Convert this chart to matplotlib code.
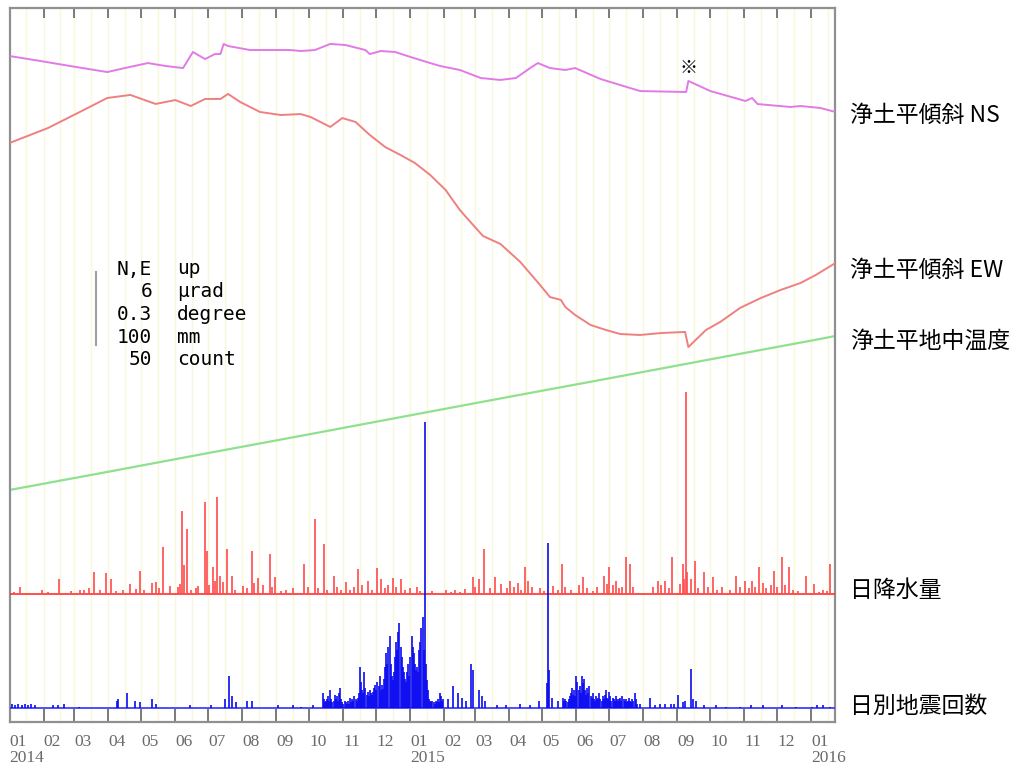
import matplotlib
matplotlib.use("Agg")
import matplotlib.pyplot as plt
import matplotlib.transforms as mtransforms
import numpy as np
import pandas as pd

# Tilt NS (micro rad, relative to first sample)
ns_tilt = [
    ("2014-01-01", 0.00), ("2014-01-29", -0.41), ("2014-02-25", -0.82), ("2014-03-31", -1.32),
    ("2014-04-16", -0.99), ("2014-05-07", -0.58), ("2014-05-23", -0.82), ("2014-06-08", -0.99),
    ("2014-06-17", 0.33), ("2014-06-28", -0.25), ("2014-07-07", 0.16), ("2014-07-12", 0.16),
    ("2014-07-15", 0.99), ("2014-07-19", 0.82), ("2014-08-08", 0.49), ("2014-08-26", 0.49),
    ("2014-09-14", 0.49), ("2014-09-23", 0.41), ("2014-10-06", 0.49), ("2014-10-20", 0.99),
    ("2014-11-03", 0.90), ("2014-11-21", 0.49), ("2014-11-25", 0.16), ("2014-12-05", 0.41),
    ("2014-12-18", 0.33), ("2015-01-01", -0.08), ("2015-01-19", -0.58), ("2015-01-28", -0.82),
    ("2015-02-15", -1.15), ("2015-03-06", -1.81), ("2015-03-24", -1.97), ("2015-04-07", -1.81),
    ("2015-04-20", -0.99), ("2015-04-27", -0.58), ("2015-05-08", -0.99), ("2015-05-22", -1.15),
    ("2015-05-31", -0.99), ("2015-06-23", -1.89), ("2015-07-29", -2.88), ("2015-09-09", -2.96),
    ("2015-09-11", -2.05), ("2015-10-01", -2.88), ("2015-11-02", -3.70), ("2015-11-08", -3.45),
    ("2015-11-13", -3.95), ("2015-12-13", -4.19), ("2015-12-22", -4.11), ("2016-01-09", -4.27),
    ("2016-01-23", -4.60),
]
ns_marked_day = "2015-09-11"

# Tilt EW (micro rad, relative to first sample)
ew_tilt = [
    ("2014-01-01", 0.00), ("2014-02-05", 1.23), ("2014-03-06", 2.55), ("2014-03-31", 3.70),
    ("2014-04-21", 3.95), ("2014-05-14", 3.21), ("2014-06-01", 3.53), ("2014-06-15", 3.04),
    ("2014-06-28", 3.62), ("2014-07-12", 3.62), ("2014-07-19", 4.03), ("2014-07-30", 3.37),
    ("2014-08-17", 2.55), ("2014-09-05", 2.30), ("2014-09-23", 2.38), ("2014-10-02", 2.14),
    ("2014-10-20", 1.32), ("2014-10-31", 2.05), ("2014-11-12", 1.73), ("2014-11-25", 0.66),
    ("2014-12-09", -0.33), ("2014-12-23", -0.99), ("2015-01-05", -1.64), ("2015-01-19", -2.63),
    ("2015-02-02", -3.86), ("2015-02-15", -5.51), ("2015-02-23", -6.33), ("2015-03-08", -7.64),
    ("2015-03-24", -8.30), ("2015-04-11", -9.78), ("2015-04-29", -11.67), ("2015-05-08", -12.66),
    ("2015-05-18", -12.90), ("2015-05-22", -13.48), ("2015-05-31", -14.14), ("2015-06-14", -14.96),
    ("2015-06-28", -15.37), ("2015-07-11", -15.70), ("2015-07-29", -15.78), ("2015-08-17", -15.62),
    ("2015-09-08", -15.53), ("2015-09-11", -16.77), ("2015-09-27", -15.37), ("2015-10-10", -14.71),
    ("2015-10-28", -13.56), ("2015-11-16", -12.74), ("2015-12-04", -12.08), ("2015-12-22", -11.51),
    ("2016-01-05", -10.85), ("2016-01-23", -9.86),
]

# Ground temperature (degree C)
ground_temp = [
    ("2014-01-01", 8.400), ("2014-04-01", 8.475), ("2014-07-01", 8.552), ("2014-10-01", 8.629),
    ("2015-01-01", 8.707), ("2015-04-01", 8.783), ("2015-07-01", 8.859), ("2015-10-01", 8.937),
    ("2016-01-01", 9.014), ("2016-01-23", 9.033),
]

# Daily precipitation (mm)
rain = [
    ("2014-01-05", 3), ("2014-01-11", 9), ("2014-01-20", 2), ("2014-01-31", 5), ("2014-02-05", 3),
    ("2014-02-15", 20), ("2014-02-26", 4), ("2014-03-06", 6), ("2014-03-10", 5), ("2014-03-14", 8),
    ("2014-03-19", 30), ("2014-03-24", 6), ("2014-03-30", 29), ("2014-04-03", 20), ("2014-04-08", 4),
    ("2014-04-14", 5), ("2014-04-21", 14), ("2014-04-26", 7), ("2014-04-30", 32), ("2014-05-03", 6),
    ("2014-05-11", 15), ("2014-05-14", 16), ("2014-05-17", 8), ("2014-05-21", 64), ("2014-05-27", 11),
    ("2014-06-03", 10), ("2014-06-05", 14), ("2014-06-07", 114), ("2014-06-09", 40), ("2014-06-12", 89),
    ("2014-06-15", 6), ("2014-06-20", 8), ("2014-06-22", 11), ("2014-06-28", 126), ("2014-06-30", 59),
    ("2014-07-02", 12), ("2014-07-05", 37), ("2014-07-07", 18), ("2014-07-09", 133), ("2014-07-12", 25),
    ("2014-07-14", 16), ("2014-07-18", 62), ("2014-07-23", 25), ("2014-07-25", 6), ("2014-08-02", 11),
    ("2014-08-05", 8), ("2014-08-10", 59), ("2014-08-12", 15), ("2014-08-15", 22), ("2014-08-20", 12),
    ("2014-08-26", 55), ("2014-08-28", 10), ("2014-08-31", 23), ("2014-09-05", 4), ("2014-09-10", 5),
    ("2014-09-16", 8), ("2014-09-26", 41), ("2014-09-30", 10), ("2014-10-06", 103), ("2014-10-09", 8),
    ("2014-10-14", 68), ("2014-10-17", 6), ("2014-10-23", 25), ("2014-10-26", 10), ("2014-10-30", 6),
    ("2014-11-03", 16), ("2014-11-07", 5), ("2014-11-11", 10), ("2014-11-14", 34), ("2014-11-18", 12),
    ("2014-11-23", 18), ("2014-11-27", 6), ("2014-12-02", 36), ("2014-12-05", 20), ("2014-12-09", 8),
    ("2014-12-12", 12), ("2014-12-16", 22), ("2014-12-19", 10), ("2014-12-23", 20), ("2014-12-27", 6),
    ("2015-01-01", 8), ("2015-01-07", 10), ("2015-01-10", 4), ("2015-01-21", 4), ("2015-02-02", 5),
    ("2015-02-07", 3), ("2015-02-11", 6), ("2015-02-15", 3), ("2015-02-20", 7), ("2015-02-27", 23),
    ("2015-03-01", 10), ("2015-03-04", 20), ("2015-03-09", 62), ("2015-03-14", 8), ("2015-03-19", 23),
    ("2015-03-24", 14), ("2015-03-30", 8), ("2015-04-02", 18), ("2015-04-05", 10), ("2015-04-09", 15),
    ("2015-04-12", 6), ("2015-04-15", 37), ("2015-04-18", 18), ("2015-04-22", 10), ("2015-04-29", 8),
    ("2015-05-03", 4), ("2015-05-11", 11), ("2015-05-15", 6), ("2015-05-19", 41), ("2015-05-22", 10),
    ("2015-05-27", 6), ("2015-06-03", 12), ("2015-06-07", 23), ("2015-06-11", 8), ("2015-06-16", 4),
    ("2015-06-20", 10), ("2015-06-26", 25), ("2015-06-29", 14), ("2015-07-01", 37), ("2015-07-04", 12),
    ("2015-07-07", 18), ("2015-07-10", 8), ("2015-07-13", 10), ("2015-07-16", 51), ("2015-07-20", 41),
    ("2015-07-23", 10), ("2015-08-10", 10), ("2015-08-14", 18), ("2015-08-17", 12), ("2015-08-21", 18),
    ("2015-08-24", 8), ("2015-08-27", 51), ("2015-09-03", 14), ("2015-09-06", 41), ("2015-09-07", 20),
    ("2015-09-09", 277), ("2015-09-10", 30), ("2015-09-13", 20), ("2015-09-17", 45), ("2015-09-20", 8),
    ("2015-09-25", 30), ("2015-09-29", 10), ("2015-10-03", 23), ("2015-10-07", 6), ("2015-10-12", 10),
    ("2015-10-19", 5), ("2015-10-24", 25), ("2015-10-28", 10), ("2015-11-02", 18), ("2015-11-05", 8),
    ("2015-11-08", 18), ("2015-11-11", 10), ("2015-11-14", 37), ("2015-11-18", 15), ("2015-11-21", 8),
    ("2015-11-25", 12), ("2015-11-28", 32), ("2015-12-01", 10), ("2015-12-05", 51), ("2015-12-08", 12),
    ("2015-12-12", 37), ("2015-12-15", 6), ("2015-12-20", 4), ("2015-12-27", 25), ("2016-01-03", 14),
    ("2016-01-08", 3), ("2016-01-12", 6), ("2016-01-15", 4), ("2016-01-18", 41),
]

# Daily earthquake counts, isolated days
quakes = [
    ("2014-01-03", 3), ("2014-01-06", 2), ("2014-01-09", 3), ("2014-01-12", 2), ("2014-01-15", 3),
    ("2014-01-18", 2), ("2014-01-21", 3), ("2014-01-24", 2), ("2014-02-10", 2), ("2014-02-14", 2),
    ("2014-02-20", 3), ("2014-03-05", 1), ("2014-04-09", 5), ("2014-04-10", 6), ("2014-04-18", 10),
    ("2014-04-25", 5), ("2014-04-30", 4), ("2014-05-11", 6), ("2014-05-14", 3), ("2014-06-14", 2),
    ("2014-07-03", 2), ("2014-07-16", 6), ("2014-07-20", 22), ("2014-07-23", 8), ("2014-07-26", 4),
    ("2014-08-05", 5), ("2014-08-10", 5), ("2014-09-02", 2), ("2014-09-16", 2), ("2014-09-23", 1),
    ("2014-10-04", 2),
    ("2015-02-04", 6), ("2015-02-09", 15), ("2015-02-13", 10), ("2015-02-17", 7), ("2015-02-21", 5),
    ("2015-02-25", 30), ("2015-02-27", 26), ("2015-03-04", 12), ("2015-03-07", 8), ("2015-03-10", 5),
    ("2015-03-21", 2), ("2015-03-29", 2), ("2015-04-11", 3), ("2015-04-20", 2), ("2015-04-28", 5),
    ("2015-05-05", 17), ("2015-05-06", 113), ("2015-05-07", 26), ("2015-05-10", 7), ("2015-05-15", 5),
    ("2015-07-29", 3), ("2015-08-07", 7), ("2015-08-12", 2), ("2015-08-16", 3), ("2015-08-21", 3),
    ("2015-08-26", 3), ("2015-08-29", 3), ("2015-09-02", 9), ("2015-09-06", 4), ("2015-09-08", 5),
    ("2015-09-13", 27), ("2015-09-15", 6), ("2015-09-18", 5), ("2015-09-25", 2), ("2015-10-06", 2),
    ("2015-10-15", 1), ("2015-10-28", 1), ("2015-11-07", 2), ("2015-11-18", 2), ("2015-12-05", 2),
    ("2015-12-18", 1), ("2016-01-02", 1), ("2016-01-06", 2), ("2016-01-12", 2), ("2016-01-18", 1),
]

# Daily earthquake counts, busy periods (consecutive days)
swarm1_start = "2014-10-13"
swarm1 = [
    10, 6, 4, 5, 6, 8, 5, 12, 6, 4, 5, 9, 6, 8, 5, 10, 14, 6, 4, 3, 5, 4, 3, 5, 3, 7, 4, 6, 5, 8,
    6, 5, 7, 10, 28, 18, 12, 10, 25, 14, 9, 11, 8, 12, 10, 9, 11, 14, 16, 12, 18, 15, 22, 12, 16, 13,
    20, 28, 38, 30, 42, 49, 30, 22, 19, 25, 35, 45, 40, 52, 58, 42, 35, 28, 25, 20, 18, 25, 30, 22,
    35, 49, 42, 38, 30, 26, 28, 25, 40, 45, 55, 62, 40, 196, 30, 19, 12, 6, 5, 4, 5, 4, 3, 5, 4, 6,
    4, 10, 8, 5, 6,
]
swarm2_start = "2015-05-20"
swarm2 = [
    7, 5, 6, 5, 4, 6, 8, 10, 14, 9, 12, 8, 22, 18, 12, 15, 10, 22, 17, 20, 12, 9, 14, 10, 15, 8, 7,
    10, 6, 5, 8, 6, 7, 10, 6, 5, 8, 6, 9, 12, 7, 6, 11, 8, 5, 7, 6, 5, 8, 6, 5, 6, 7, 5, 8, 6, 5, 6,
    4, 5, 7, 5, 4, 6, 5, 10, 6, 3,
]

month_labels = ["01", "02", "03", "04", "05", "06", "07", "08", "09", "10", "11", "12"]
series_names = ["浄土平傾斜 NS", "浄土平傾斜 EW", "浄土平地中温度", "日降水量", "日別地震回数"]
scale_lines = [("N,E", "up"), ("6", "μrad"), ("0.3", "degree"), ("100", "mm"), ("50", "count")]

# --- layout (pixel-like vertical units, bar = one scale unit) ---
W, H = 1022, 774
AX_L, AX_R, AX_T, AX_B = 9.5, 835, 8, 722
BAR = 73.0
NS_BASE, EW_BASE, TEMP_BASE, RAIN_BASE, QUAKE_BASE = 666, 579, 232, 128, 14

cjk = ["Noto Sans CJK JP", "DejaVu Sans"]

fig = plt.figure(figsize=(W / 100, H / 100), dpi=100)
ax = fig.add_axes([AX_L / W, 1 - AX_B / H, (AX_R - AX_L) / W, (AX_B - AX_T) / H])
ax.set_ylim(0, AX_B - AX_T)
x0, x1 = pd.Timestamp("2014-01-01"), pd.Timestamp("2016-01-22 12:00")
ax.set_xlim(x0, x1)

# pale yellow grid: 1st and 16th of each month
for m in pd.date_range("2014-01-01", "2016-01-01", freq="MS"):
    for d in (m, m + pd.Timedelta(days=15)):
        if x0 < d < x1:
            ax.axvline(d, color="#f9f8da", lw=1.0, zorder=0)


def unzip(pairs):
    d, v = zip(*pairs)
    return pd.to_datetime(list(d)), np.array(v, dtype=float)


td, tv = unzip(ground_temp)
ax.plot(td, TEMP_BASE + (tv - tv[0]) * BAR / 0.3, color="#8fe08f", lw=1.6, zorder=2)

ewd, ewv = unzip(ew_tilt)
ax.plot(ewd, EW_BASE + ewv * BAR / 6, color="#ef8080", lw=1.4, zorder=3)

nsd, nsv = unzip(ns_tilt)
ax.plot(nsd, NS_BASE + nsv * BAR / 6, color="#e27ae6", lw=1.4, zorder=3)
k = list(nsd).index(pd.Timestamp(ns_marked_day))
ax.annotate("※", xy=(nsd[k], NS_BASE + nsv[k] * BAR / 6), xytext=(0, 3),
            textcoords="offset points", ha="center", va="bottom", fontsize=13, family=cjk)

# rain
rd, rv = unzip(rain)
ax.axhline(RAIN_BASE, color="#ff3030", lw=1.2, zorder=3)
ax.vlines(rd, RAIN_BASE, RAIN_BASE + rv * BAR / 100, color="#ff4a4a", lw=1.2, zorder=4)

# earthquakes
qd, qv = unzip(quakes)
s1 = pd.date_range(swarm1_start, periods=len(swarm1), freq="D")
s2 = pd.date_range(swarm2_start, periods=len(swarm2), freq="D")
qd = qd.append(s1).append(s2)
qv = np.concatenate([qv, np.array(swarm1, float), np.array(swarm2, float)])
ax.axhline(QUAKE_BASE, color="#3030ff", lw=1.2, zorder=3)
ax.vlines(qd, QUAKE_BASE, QUAKE_BASE + qv * BAR / 50, color="#0a0af0", lw=1.2, zorder=5)

# frame & ticks
for sp in ax.spines.values():
    sp.set_color("#909090")
    sp.set_linewidth(1.6)
ax.set_yticks([])
ticks = pd.date_range("2014-01-01", "2016-01-01", freq="MS")
ax.set_xticks(ticks)
labels = []
for t in ticks:
    lab = month_labels[t.month - 1]
    if t.month == 1:
        lab += "\n" + str(t.year)
    labels.append(lab)
ax.set_xticklabels(labels, ha="left", va="top", fontsize=12.5, family="Liberation Serif",
                   color="#6a6a6a", linespacing=0.95)
ax.tick_params(axis="x", direction="in", top=True, length=9.5, width=1.3, color="#707070", pad=9)
for t in ax.xaxis.get_major_ticks():
    t.tick2line.set_markersize(7)

# scale bar and legend
tr = mtransforms.blended_transform_factory(ax.transAxes, ax.transData)
bx = (96 - AX_L) / (AX_R - AX_L)
ax.plot([bx, bx], [AX_B - 345, AX_B - 345 + BAR], color="#a0a0a0", lw=1.5, transform=tr, zorder=6)
for i, (num, unit) in enumerate(scale_lines):
    y = 1 - (269 + i * 22.7) / H
    fig.text(152 / W, y, num, ha="right", va="center", fontsize=14, family="DejaVu Sans Mono")
    fig.text(177 / W, y, unit, ha="left", va="center", fontsize=14,
             family=["DejaVu Sans Mono", "DejaVu Sans"])

# right-side series names
for name, y in zip(series_names, [115, 270, 341, 590, 706]):
    fig.text(850 / W, 1 - y / H, name, ha="left", va="center", fontsize=16.5, family=cjk)

fig.savefig("out.png", dpi=100)
